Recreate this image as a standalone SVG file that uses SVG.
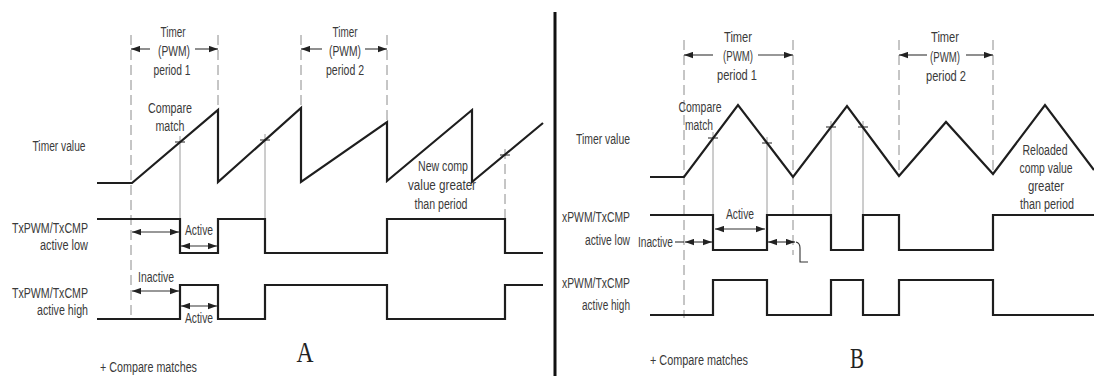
<svg xmlns="http://www.w3.org/2000/svg" width="1094" height="376" viewBox="0 0 1094 376">
<style>
.t{font-family:"Liberation Sans",Arial,sans-serif;font-size:14px;fill:#3a3a3a;text-anchor:middle}
.big{font-family:"Liberation Serif","Times New Roman",serif;font-size:30px;fill:#222;text-anchor:middle}
.w{fill:none;stroke:#1e1e1e;stroke-width:2.2;stroke-linejoin:miter}
.d{fill:none;stroke:#8c8c8c;stroke-width:1;stroke-dasharray:10 5}
.f{fill:none;stroke:#9a9a9a;stroke-width:1}
.a{fill:none;stroke:#333;stroke-width:1.1}
</style>
<defs>
<marker id="ah" viewBox="0 0 10 7" markerWidth="9" markerHeight="7" refX="10" refY="3.5" orient="auto-start-reverse" markerUnits="userSpaceOnUse">
<path d="M0,0 L10,3.5 L0,7 z" fill="#222"/>
</marker>
</defs>
<rect width="1094" height="376" fill="#fff"/>

<g id="connectors">
<!-- Panel A guides -->
<line class="d" x1="131" y1="35" x2="131" y2="320"/>
<line class="d" x1="218" y1="35" x2="218" y2="183"/>
<line class="d" x1="301" y1="35" x2="301" y2="182"/>
<line class="d" x1="387" y1="35" x2="387" y2="182"/>
<line class="f" x1="180" y1="136" x2="180" y2="219"/>
<line class="f" x1="265" y1="134" x2="265" y2="219"/>
<line class="d" x1="505" y1="149" x2="505" y2="218"/>
<line class="a" x1="175" y1="142" x2="185" y2="142"/>
<line class="a" x1="260" y1="140" x2="270" y2="140"/>
<line class="a" x1="500" y1="155" x2="510" y2="155"/>

<!-- Panel A period arrows -->
<line class="a" x1="150" y1="49" x2="131" y2="49" marker-end="url(#ah)"/>
<line class="a" x1="195" y1="49" x2="218" y2="49" marker-end="url(#ah)"/>
<line class="a" x1="322" y1="49" x2="301" y2="49" marker-end="url(#ah)"/>
<line class="a" x1="365" y1="49" x2="387" y2="49" marker-end="url(#ah)"/>

<!-- Panel A waveforms -->
<path class="w" d="M97,183 L132,183 L218,110 L218,182 L301,108 L301,182 L387,122 L387,181 L472,110 L472,182 L543,123"/>
<path class="w" d="M97,219 L180,219 L180,253 L218,253 L218,219 L265,219 L265,253 L387,253 L387,219 L505,219 L505,253 L543,253"/>
<path class="w" d="M97,319 L180,319 L180,285 L218,285 L218,319 L265,319 L265,285 L387,285 L387,319 L505,319 L505,285 L543,285"/>
<line class="a" x1="132" y1="232" x2="179" y2="232" marker-start="url(#ah)" marker-end="url(#ah)"/>
<line class="a" x1="181" y1="246" x2="217" y2="246" marker-start="url(#ah)" marker-end="url(#ah)"/>
<line class="a" x1="132" y1="291" x2="179" y2="291" marker-start="url(#ah)" marker-end="url(#ah)"/>
<line class="a" x1="181" y1="306" x2="217" y2="306" marker-start="url(#ah)" marker-end="url(#ah)"/>

<!-- Separator -->
<rect x="553.5" y="12" width="3" height="364" fill="#111"/>

<!-- Panel B guides -->
<line class="d" x1="684" y1="40" x2="684" y2="318"/>
<line class="d" x1="793" y1="40" x2="793" y2="255"/>
<line class="d" x1="899" y1="40" x2="899" y2="176"/>
<line class="d" x1="993" y1="40" x2="993" y2="174"/>
<line class="f" x1="713" y1="132" x2="713" y2="215"/>
<line class="f" x1="767" y1="137" x2="767" y2="215"/>
<line class="f" x1="831" y1="121" x2="831" y2="215"/>
<line class="f" x1="863" y1="121" x2="863" y2="215"/>
<line class="a" x1="708" y1="138" x2="718" y2="138"/>
<line class="a" x1="762" y1="143" x2="772" y2="143"/>
<line class="a" x1="826" y1="127" x2="836" y2="127"/>
<line class="a" x1="858" y1="127" x2="868" y2="127"/>

<!-- Panel B period arrows -->
<line class="a" x1="713" y1="55" x2="684" y2="55" marker-end="url(#ah)"/>
<line class="a" x1="758" y1="55" x2="793" y2="55" marker-end="url(#ah)"/>
<line class="a" x1="927" y1="55" x2="899" y2="55" marker-end="url(#ah)"/>
<line class="a" x1="966" y1="55" x2="993" y2="55" marker-end="url(#ah)"/>

<!-- Panel B waveforms -->
<path class="w" d="M650,177 L684,177 L738,105 L793,177 L847,106 L899,176 L946,122 L993,174 L1045,105 L1094,170"/>
<path class="w" d="M650,215 L713,215 L713,250 L767,250 L767,215 L831,215 L831,250 L863,250 L863,215 L899,215 L899,250 L993,250 L993,215 L1094,215"/>
<path class="w" d="M650,315 L713,315 L713,280 L767,280 L767,315 L831,315 L831,280 L863,280 L863,315 L899,315 L899,280 L993,280 L993,315 L1094,315"/>
<line class="a" x1="715" y1="229" x2="765" y2="229" marker-start="url(#ah)" marker-end="url(#ah)"/>
<line class="a" x1="675" y1="242" x2="684" y2="242"/>
<line class="a" x1="685" y1="242" x2="712" y2="242" marker-start="url(#ah)" marker-end="url(#ah)"/>
<line class="a" x1="768" y1="242" x2="795" y2="242" marker-start="url(#ah)" marker-end="url(#ah)"/>
<path class="a" d="M796,242 Q800,243 800,248 L800,262 L808,262"/>
</g>

<g id="panelA-labels">
<text class="t" x="173" y="37" textLength="25" lengthAdjust="spacingAndGlyphs">Timer</text>
<text class="t" x="174" y="56" textLength="32" lengthAdjust="spacingAndGlyphs">(PWM)</text>
<text class="t" x="172" y="75" textLength="37" lengthAdjust="spacingAndGlyphs">period 1</text>
<text class="t" x="170" y="113" textLength="44" lengthAdjust="spacingAndGlyphs">Compare</text>
<text class="t" x="170" y="131" textLength="29" lengthAdjust="spacingAndGlyphs">match</text>
<text class="t" x="59" y="151" textLength="53" lengthAdjust="spacingAndGlyphs">Timer value</text>
<text class="t" x="345" y="37" textLength="25" lengthAdjust="spacingAndGlyphs">Timer</text>
<text class="t" x="345" y="56" textLength="32" lengthAdjust="spacingAndGlyphs">(PWM)</text>
<text class="t" x="345" y="75" textLength="38" lengthAdjust="spacingAndGlyphs">period 2</text>
<text class="t" x="443" y="171" textLength="50" lengthAdjust="spacingAndGlyphs">New comp</text>
<text class="t" x="442" y="190" textLength="68" lengthAdjust="spacingAndGlyphs">value greater</text>
<text class="t" x="441" y="209" textLength="53" lengthAdjust="spacingAndGlyphs">than period</text>
<text class="t" x="50" y="233" textLength="76" lengthAdjust="spacingAndGlyphs">TxPWM/TxCMP</text>
<text class="t" x="64" y="250" textLength="48" lengthAdjust="spacingAndGlyphs">active low</text>
<text class="t" x="50" y="298" textLength="76" lengthAdjust="spacingAndGlyphs">TxPWM/TxCMP</text>
<text class="t" x="62.5" y="315" textLength="51" lengthAdjust="spacingAndGlyphs">active high</text>
<text class="t" x="199" y="235" textLength="28" lengthAdjust="spacingAndGlyphs">Active</text>
<text class="t" x="156" y="282" textLength="36" lengthAdjust="spacingAndGlyphs">Inactive</text>
<text class="t" x="199" y="323" textLength="28" lengthAdjust="spacingAndGlyphs">Active</text>
<text class="t" x="148.5" y="372" textLength="97" lengthAdjust="spacingAndGlyphs">+ Compare matches</text>
<text class="big" x="305" y="362" textLength="17" lengthAdjust="spacingAndGlyphs">A</text>
</g>

<g id="panelB-labels">
<text class="t" x="738" y="42" textLength="28" lengthAdjust="spacingAndGlyphs">Timer</text>
<text class="t" x="738" y="61" textLength="30" lengthAdjust="spacingAndGlyphs">(PWM)</text>
<text class="t" x="737" y="80" textLength="40" lengthAdjust="spacingAndGlyphs">period 1</text>
<text class="t" x="700" y="112" textLength="43" lengthAdjust="spacingAndGlyphs">Compare</text>
<text class="t" x="699" y="130" textLength="28" lengthAdjust="spacingAndGlyphs">match</text>
<text class="t" x="603" y="144" textLength="54" lengthAdjust="spacingAndGlyphs">Timer value</text>
<text class="t" x="945" y="42" textLength="28" lengthAdjust="spacingAndGlyphs">Timer</text>
<text class="t" x="945" y="62" textLength="30" lengthAdjust="spacingAndGlyphs">(PWM)</text>
<text class="t" x="946" y="81" textLength="40" lengthAdjust="spacingAndGlyphs">period 2</text>
<text class="t" x="1045" y="155" textLength="45" lengthAdjust="spacingAndGlyphs">Reloaded</text>
<text class="t" x="1046" y="173" textLength="53" lengthAdjust="spacingAndGlyphs">comp value</text>
<text class="t" x="1046" y="191" textLength="36" lengthAdjust="spacingAndGlyphs">greater</text>
<text class="t" x="1047" y="209" textLength="54" lengthAdjust="spacingAndGlyphs">than period</text>
<text class="t" x="596" y="222" textLength="68" lengthAdjust="spacingAndGlyphs">xPWM/TxCMP</text>
<text class="t" x="630" y="245" style="text-anchor:end" textLength="45" lengthAdjust="spacingAndGlyphs">active low</text>
<text class="t" x="638" y="247" style="text-anchor:start" textLength="35" lengthAdjust="spacingAndGlyphs">Inactive</text>
<text class="t" x="740" y="219" textLength="28" lengthAdjust="spacingAndGlyphs">Active</text>
<text class="t" x="596" y="288" textLength="68" lengthAdjust="spacingAndGlyphs">xPWM/TxCMP</text>
<text class="t" x="606" y="310" textLength="48" lengthAdjust="spacingAndGlyphs">active high</text>
<text class="t" x="699" y="365" textLength="98" lengthAdjust="spacingAndGlyphs">+ Compare matches</text>
<text class="big" x="857" y="368" textLength="14" lengthAdjust="spacingAndGlyphs">B</text>
</g>
</svg>
